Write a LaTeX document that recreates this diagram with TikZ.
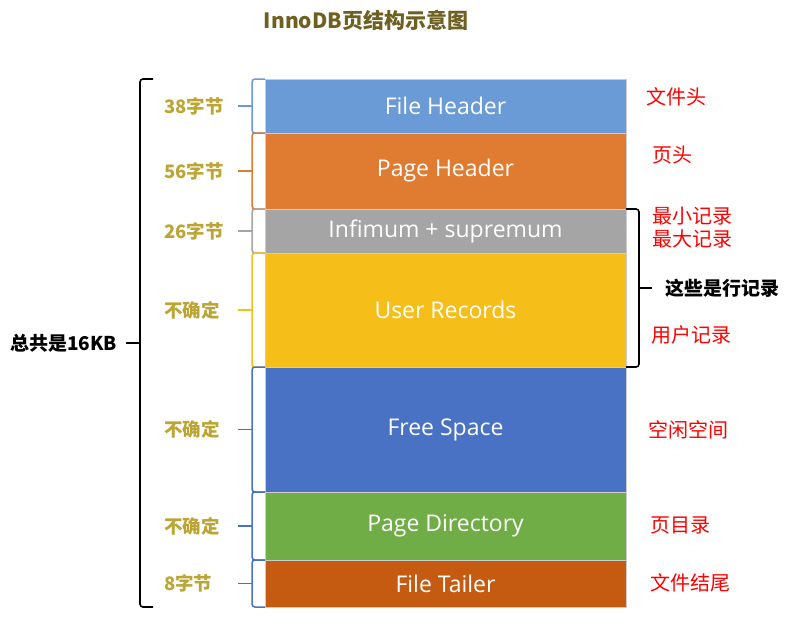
\documentclass[tikz,border=0pt]{standalone}
\usepackage{fontspec}
\setmainfont{Open Sans}
\newfontfamily\cjk{Noto Sans CJK SC}
\usepackage{xcolor}
\usetikzlibrary{positioning,calc}

\definecolor{fhblue}{HTML}{6A9BD6}
\definecolor{phorange}{HTML}{E07B32}
\definecolor{infgray}{HTML}{A5A5A5}
\definecolor{uryellow}{HTML}{F5BE18}
\definecolor{fsblue}{HTML}{4A72C4}
\definecolor{pdgreen}{HTML}{70AD47}
\definecolor{ftorange}{HTML}{C55A11}
\definecolor{titleolive}{HTML}{6E6020}
\definecolor{sizegold}{HTML}{BCA535}

\tikzset{
    blk/.style={draw=black!20, line width=0.5pt, minimum width=361pt, inner sep=0pt, outer sep=0pt,
        text=white, font=\fontsize{23}{26}\selectfont},
    sizelbl/.style={anchor=west, inner sep=0pt, text=sizegold, font=\cjk\bfseries\fontsize{18.5}{20}\selectfont},
    note/.style={anchor=west, inner sep=0pt, align=left, text=red, font=\cjk\fontsize{20}{23}\selectfont},
    sidelbl/.style={inner sep=0pt, font=\cjk\bfseries\fontsize{19}{21}\selectfont},
    bigbrace/.style={line width=1.6pt, rounded corners=3pt},
    smallbrace/.style={line width=1.5pt, rounded corners=3pt},
}

% brace on the left of one block
\newcommand{\blockbrace}[2]{%
    \draw[smallbrace, #2] (#1.north west) -- ++(-13,0) -- ($(#1.south west)+(-13,0)$) -- (#1.south west);
    \draw[smallbrace, #2] ($(#1.west)+(-13.5,0)$) -- ++(-14,0);
}

\begin{document}
\begin{tikzpicture}[x=1pt, y=-1pt]
    \useasboundingbox (0,0) rectangle (800,625);

    % Title
    \node[font=\cjk\bfseries\fontsize{21}{24}\selectfont, text=titleolive] (title) at (366,20) {InnoDB页结构示意图};

    % Page blocks, top to bottom
    \node[blk, fill=fhblue, minimum height=54pt, anchor=north west] (fh) at (265,79) {File Header};
    \node[blk, fill=phorange, minimum height=76pt, below=0pt of fh] (ph) {Page Header};
    \node[blk, fill=infgray, minimum height=44pt, below=0pt of ph] (ir) {Infimum + supremum};
    \node[blk, fill=uryellow, minimum height=114pt, below=0pt of ir] (ur) {User Records};
    \node[blk, fill=fsblue, minimum height=125pt, below=0pt of ur] (fs) {Free Space};
    \node[blk, fill=pdgreen, minimum height=68pt, below=0pt of fs] (pd) {Page Directory};
    \node[blk, fill=ftorange, minimum height=47pt, below=0pt of pd] (ft) {File Tailer};

    % Braces and sizes on the left
    \blockbrace{fh}{fhblue}
    \blockbrace{ph}{phorange}
    \blockbrace{ir}{infgray}
    \blockbrace{ur}{uryellow}
    \blockbrace{fs}{fsblue}
    \blockbrace{pd}{fsblue}
    \blockbrace{ft}{fsblue}
    \node[sizelbl] (sfh) at ($(fh.west)+(-101,0)$) {38字节};
    \node[sizelbl] (sph) at ($(ph.west)+(-101,0)$) {56字节};
    \node[sizelbl] (sir) at ($(ir.west)+(-101,0)$) {26字节};
    \node[sizelbl] (sur) at ($(ur.west)+(-101,0)$) {不确定};
    \node[sizelbl] (sfs) at ($(fs.west)+(-101,0)$) {不确定};
    \node[sizelbl] (spd) at ($(pd.west)+(-101,0)$) {不确定};
    \node[sizelbl] (sft) at ($(ft.west)+(-101,0)$) {8字节};

    % Whole page brace
    \draw[bigbrace] (fh.north west) ++(-112,0) -- ++(-13,0) -- ($(ft.south west)+(-125,0)$) -- ++(13,0);
    \coordinate (tip) at ($(fh.north west)!.5!(ft.south west)+(-125,0)$);
    \draw[bigbrace] (tip) -- ++(-14,0);
    \node[sidelbl, left=23pt of tip] (total) {总共是16KB};

    % Row records brace
    \draw[bigbrace] (ir.north east) -- ++(13,0) -- ($(ur.south east)+(13,0)$) -- (ur.south east);
    \coordinate (rtip) at ($(ir.north east)!.5!(ur.south east)+(13,0)$);
    \draw[bigbrace] (rtip) -- ++(13,0);
    \node[sidelbl, right=26pt of rtip] (rows) {这些是行记录};

    % Notes on the right
    \node[note] (nfh) at (646,97) {文件头};
    \node[note] (nph) at (652,155) {页头};
    \node[note] (nir) at (652,228) {最小记录\\最大记录};
    \node[note] (nur) at (651,335) {用户记录};
    \node[note] (nfs) at (648,430) {空闲空间};
    \node[note] (npd) at (650,525) {页目录};
    \node[note] (nft) at (650,583) {文件结尾};
\end{tikzpicture}
\end{document}
